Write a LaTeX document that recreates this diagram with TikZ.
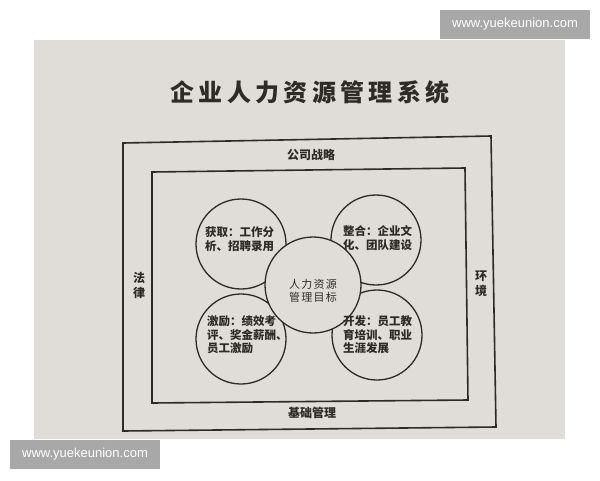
\documentclass[tikz,border=0pt]{standalone}
\usepackage{fontspec}
\newfontfamily\cjk{Noto Sans CJK SC}
\newfontfamily\wm{Liberation Sans}
\definecolor{paper}{RGB}{224,221,217}
\definecolor{ink}{RGB}{45,42,40}
\definecolor{wmgrey}{RGB}{168,168,168}
\tikzset{
  frame/.style={draw=ink, line width=1.6pt, line join=miter},
  ring/.style={circle, draw=ink, line width=1.3pt, minimum size=90pt, inner sep=0pt},
  hub/.style={circle, draw=ink, line width=1.3pt, fill=paper, minimum size=96pt, inner sep=0pt},
  label/.style={text=ink, font=\cjk\bfseries\fontsize{11.5}{13.5}\selectfont, align=left, inner sep=0pt},
  side/.style={text=ink, font=\cjk\bfseries\fontsize{12}{15}\selectfont, align=center, inner sep=0pt},
  hubtext/.style={text=ink, font=\cjk\fontsize{11}{13.5}\selectfont\addfontfeature{LetterSpace=12}, align=center, inner sep=0pt},
  wmbox/.style={fill=wmgrey, text=white, font=\wm\fontsize{13}{13}\selectfont, minimum width=150pt, minimum height=29pt, inner sep=0pt}
}
\begin{document}
\begin{tikzpicture}[x=1pt,y=-1pt]
\useasboundingbox (0,0) rectangle (600,480);
\fill[white] (0,0) rectangle (600,480);
\fill[paper] (34,40) rectangle (565,439);
% title
\node[text=ink, font=\cjk\bfseries\fontsize{24}{24}\selectfont\addfontfeature{LetterSpace=18}, inner sep=0pt] (title) at (310,92) {企业人力资源管理系统};
% frames
\coordinate (oTL) at (123,143); \coordinate (oTR) at (491,136);
\coordinate (oBR) at (496,427); \coordinate (oBL) at (123,431);
\coordinate (iTL) at (152,172); \coordinate (iTR) at (465,168);
\coordinate (iBR) at (468,400); \coordinate (iBL) at (152,403);
\draw[frame] (oTL) -- (oTR) -- (oBR) -- (oBL) -- cycle;
\draw[frame] (iTL) -- (iTR) -- (iBR) -- (iBL) -- cycle;
\node[side] (top) at (311,155) {公司战略};
\node[side] (bottom) at (312,413) {基础管理};
\node[side] (left) at (139,285) {法\\律};
\node[side] (right) at (481,284) {环\\境};
% circles
\node[ring] (c1) at (241,244) {};
\node[ring] (c2) at (376,240) {};
\node[ring] (c3) at (241,339) {};
\node[ring] (c4) at (377,335) {};
\node[hub] (c0) at (313,285) {};
% texts
\node[label, anchor=west] (t1) at (205,239) {获取：工作分\\析、招聘录用};
\node[label, anchor=west] (t2) at (343,238) {整合：企业文\\化、团队建设};
\node[label, anchor=west] (t3) at (207,335) {激励：绩效考\\评、奖金薪酬、\\员工激励};
\node[label, anchor=west] (t4) at (343,335) {开发：员工教\\育培训、职业\\生涯发展};
\node[hubtext] (t0) at ([yshift=-6pt]c0.center) {人力资源\\管理目标};
% watermarks
\node[wmbox] (wm1) at (515,24.5) {www.yuekeunion.com};
\node[wmbox] (wm2) at (85,454.5) {www.yuekeunion.com};
\end{tikzpicture}
\end{document}
